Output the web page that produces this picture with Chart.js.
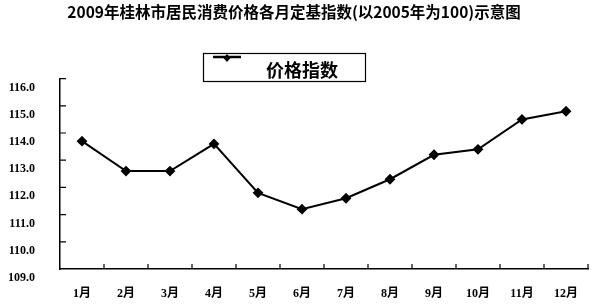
<!DOCTYPE html>
<html>
<head>
<meta charset="utf-8">
<script src="https://cdn.jsdelivr.net/npm/chart.js@4"></script>
<style>
  html, body { margin: 0; padding: 0; background: #fff; }
  #wrap { width: 600px; height: 304px; }
</style>
</head>
<body>
<div id="wrap"><canvas id="cpiChart" width="600" height="304"></canvas></div>
<script>
const months = ["1月", "2月", "3月", "4月", "5月", "6月", "7月", "8月", "9月", "10月", "11月", "12月"];
const priceIndex = [113.7, 112.6, 112.6, 113.6, 111.8, 111.2, 111.6, 112.3, 113.2, 113.4, 114.5, 114.8];
const yMin = 109;
const yMax = 116;
const seriesName = "价格指数";
const titleText = "2009年桂林市居民消费价格各月定基指数(以2005年为100)示意图";

const labelFont = { family: "'Liberation Serif', 'Noto Sans CJK SC', serif", size: 12, weight: "bold" };

// inward tick marks on both axes, plus the framed legend
const extras = {
    id: "extras",
    afterDraw(chart) {
        const ctx = chart.ctx;
        const xs = chart.scales.x;
        const ys = chart.scales.y;
        ctx.save();
        ctx.strokeStyle = "#000";
        ctx.lineWidth = 1.2;
        ctx.beginPath();
        for (let i = 0; i < months.length; i++) {
            const px = xs.getPixelForValue(i + 0.5);
            ctx.moveTo(px, xs.top);
            ctx.lineTo(px, xs.top - 5);
        }
        for (let v = yMin + 1; v <= yMax; v++) {
            const py = ys.getPixelForValue(v);
            ctx.moveTo(ys.right, py);
            ctx.lineTo(ys.right + 6, py);
        }
        ctx.stroke();

        // legend box
        ctx.lineWidth = 1.2;
        ctx.strokeRect(203.5, 53.5, 162, 28);
        ctx.lineWidth = 2.5;
        ctx.beginPath();
        ctx.moveTo(213, 57);
        ctx.lineTo(241, 57);
        ctx.stroke();
        ctx.fillStyle = "#000";
        ctx.beginPath();
        ctx.moveTo(227, 54);
        ctx.lineTo(230.5, 58);
        ctx.lineTo(227, 62);
        ctx.lineTo(223.5, 58);
        ctx.closePath();
        ctx.fill();
        ctx.font = "bold 18px 'Noto Sans CJK SC'";
        ctx.textAlign = "left";
        ctx.textBaseline = "middle";
        ctx.fillText(seriesName, 266, 70);
        ctx.restore();
    }
};

new Chart(document.getElementById("cpiChart").getContext("2d"), {
    type: "line",
    data: {
        labels: months,
        datasets: [{
            label: seriesName,
            data: priceIndex,
            borderColor: "#000",
            backgroundColor: "#000",
            borderWidth: 2,
            pointStyle: "rectRot",
            pointRadius: 4,
            pointBackgroundColor: "#000",
            tension: 0,
            fill: false
        }]
    },
    options: {
        responsive: false,
        animation: false,
        layout: { padding: { left: 0, right: 12, top: 0, bottom: 0 } },
        plugins: {
            legend: { display: false },
            tooltip: { enabled: false },
            title: {
                display: true,
                text: titleText,
                color: "#000",
                font: { family: "'Noto Sans CJK SC', sans-serif", size: 15.5, weight: "bold" },
                padding: { top: 3, bottom: 57 }
            }
        },
        scales: {
            x: {
                offset: true,
                grid: { display: false },
                border: { display: true, color: "#000", width: 1.5 },
                ticks: { color: "#000", font: labelFont, padding: 10, maxRotation: 0, autoSkip: false },
                afterFit(scale) { scale.height = 35; }
            },
            y: {
                min: yMin,
                max: yMax,
                grid: { display: false },
                border: { display: true, color: "#000", width: 1.5 },
                ticks: {
                    stepSize: 1,
                    color: "#000",
                    font: labelFont,
                    padding: 17,
                    labelOffset: 9,
                    callback: v => v.toFixed(1)
                },
                afterFit(scale) { scale.width = 60; }
            }
        }
    },
    plugins: [extras]
});
</script>
</body>
</html>
